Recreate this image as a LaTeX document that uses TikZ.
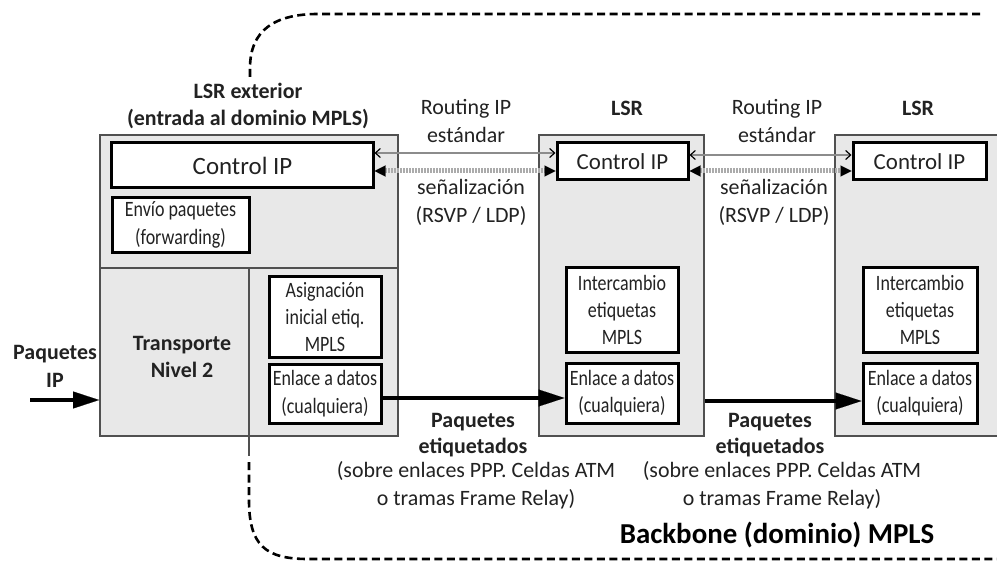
\documentclass[tikz,border=0pt]{standalone}
\usepackage{fontspec}
\setmainfont{Carlito}
\newfontfamily\narrowfont[FakeStretch=0.82]{Carlito}
\usetikzlibrary{arrows.meta,calc}
\definecolor{boxgray}{HTML}{E8E8E8}
\definecolor{edgegray}{HTML}{505050}
\definecolor{inkgray}{HTML}{222222}
\definecolor{routegray}{HTML}{8C8C8C}
\definecolor{siggray}{HTML}{ABABAB}

\begin{document}
\begin{tikzpicture}[x=1bp,y=-1bp,
  lsrbox/.style={draw=edgegray, line width=1.8bp, fill=boxgray, inner sep=0pt},
  ctlbox/.style={draw=black, line width=3bp, fill=white, inner sep=0pt,
    text=inkgray, font=\fontsize{23}{28}\selectfont},
  fnbox/.style={draw=black, line width=3bp, fill=white, inner sep=0pt, align=center,
    text=inkgray, font=\narrowfont\fontsize{22}{27.5}\selectfont},
  lbl/.style={align=center, text=inkgray, inner sep=0pt, font=\fontsize{22}{28}\selectfont},
  blbl/.style={align=center, text=inkgray, inner sep=0pt, font=\bfseries\fontsize{22}{28}\selectfont},
  routeline/.style={draw=routegray, line width=1.8bp,
    {Straight Barb[length=5bp,width=9bp,color=black,line width=1.2bp]}-{Straight Barb[length=5bp,width=9bp,color=black,line width=1.2bp]}},
  sigline/.style={draw=siggray, line width=5bp, dash pattern=on 1.6bp off 1.4bp,
    {Triangle[length=11bp,width=11bp,color=black,line width=0.1bp]}-{Triangle[length=11bp,width=11bp,color=black,line width=0.1bp]}},
  dataline/.style={draw=black, line width=4.5bp, -{Triangle[length=26bp,width=17bp,line width=0.1bp]}},
  domainline/.style={draw=black, line width=2.6bp, dash pattern=on 8bp off 4.5bp},
  divider/.style={draw=edgegray, line width=1.8bp}
]
\clip (0,0) rectangle (997,563);
\fill[white] (0,0) rectangle (997,563);

% domain boundary (dashed)
\draw[domainline] (250,77) -- (250,68) .. controls (250,30) and (275,14) .. (318,14) -- (983,14);
\draw[domainline] (249,462) -- (249,500) .. controls (249,545) and (265,559) .. (308,559) -- (997,559);

% router frames
\node[lsrbox, minimum width=298bp, minimum height=301bp] (lsr1) at (249,285.5) {};
\node[lsrbox, minimum width=165bp, minimum height=301bp] (lsr2) at (621.5,285.5) {};
\node[lsrbox, minimum width=175bp, minimum height=301bp] (lsr3) at (922.5,285.5) {};

% internal division of the edge router
\coordinate (splitL) at (100,268);
\coordinate (splitR) at (398,268);
\coordinate (splitT) at (249,268);
\coordinate (splitB) at (249,456);
\draw[divider] (splitL) -- (splitR);
\draw[divider] (splitT) -- (splitB);

% edge router blocks
\node[ctlbox, font=\fontsize{25}{28}\selectfont, minimum width=261bp, minimum height=45bp] (ctl1) at (242.5,165.5) {Control IP};
\node[fnbox, minimum width=137bp, minimum height=54bp] (env1) at (180.5,225) {Envío paquetes\\(forwarding)};
\node[fnbox, minimum width=112bp, minimum height=80bp] (asg1) at (325,317) {Asignación\\inicial etiq.\\MPLS};
\node[fnbox, minimum width=112bp, minimum height=59bp] (enl1) at (325,393.5) {Enlace a datos\\(cualquiera)};
\node[blbl] (trans) at (182,357) {Transporte\\Nivel 2};

% core router blocks
\node[ctlbox, minimum width=131bp, minimum height=37bp] (ctl2) at (622.5,161.5) {Control IP};
\node[fnbox, minimum width=112bp, minimum height=84bp] (int2) at (622,310) {Intercambio\\etiquetas\\MPLS};
\node[fnbox, minimum width=112bp, minimum height=60bp] (enl2) at (622,393) {Enlace a datos\\(cualquiera)};

\node[ctlbox, minimum width=133bp, minimum height=37bp] (ctl3) at (919.5,161.5) {Control IP};
\node[fnbox, minimum width=114bp, minimum height=84bp] (int3) at (920,310) {Intercambio\\etiquetas\\MPLS};
\node[fnbox, minimum width=114bp, minimum height=60bp] (enl3) at (920,393) {Enlace a datos\\(cualquiera)};

% router titles
\node[blbl] (t1) at (248,106) {LSR exterior\\(entrada al dominio MPLS)};
\node[blbl] (t2) at (627,108) {LSR};
\node[blbl] (t3) at (918,108) {LSR};

% control plane exchanges
\draw[routeline] (ctl1.east |- 0,153) -- (ctl2.west |- 0,153);
\draw[sigline] (ctl1.east |- 0,171) -- (ctl2.west |- 0,171);
\draw[routeline] (ctl2.east |- 0,155) -- (ctl3.west |- 0,155);
\draw[sigline] (ctl2.east |- 0,171) -- (ctl3.west |- 0,171);

\node[lbl] (r1) at (466,121) {Routing IP\\estándar};
\node[lbl] (s1) at (471,202) {señalización\\(RSVP / LDP)};
\node[lbl] (r2) at (777,121) {Routing IP\\estándar};
\node[lbl] (s2) at (774,202) {señalización\\(RSVP / LDP)};

% data plane
\coordinate (pin) at (30,400);
\draw[dataline] (pin) -- (pin -| lsr1.west);
\draw[dataline] (enl1.east |- 0,398) -- (enl2.west |- 0,398);
\draw[dataline] (lsr2.east |- 0,401) -- (enl3.west |- 0,401);

\node[blbl] (pip) at (55,366) {Paquetes\\IP};
\node[blbl, font=\bfseries\fontsize{22}{26}\selectfont] (pe1) at (473,435) {Paquetes\\etiquetados};
\node[lbl] (o1) at (476,485) {(sobre enlaces PPP. Celdas ATM\\o tramas Frame Relay)};
\node[blbl, font=\bfseries\fontsize{22}{26}\selectfont] (pe2) at (770,435) {Paquetes\\etiquetados};
\node[lbl] (o2) at (782,485) {(sobre enlaces PPP. Celdas ATM\\o tramas Frame Relay)};

\node[text=black, inner sep=0pt, font=\bfseries\fontsize{29}{34}\selectfont] (bb) at (777,535) {Backbone (dominio) MPLS};
\end{tikzpicture}
\end{document}
